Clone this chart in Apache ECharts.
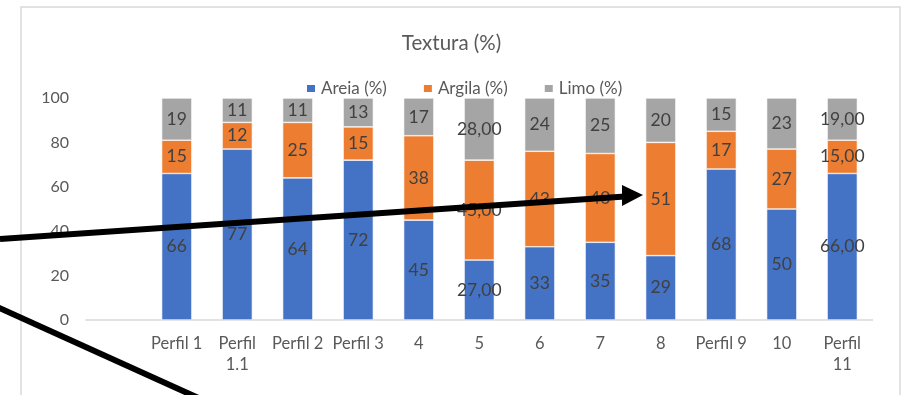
<!DOCTYPE html>
<html>
<head>
<meta charset="utf-8">
<script src="https://cdn.jsdelivr.net/npm/echarts@6/dist/echarts.min.js"></script>
<style>
  html, body { margin: 0; padding: 0; background: #ffffff; }
  #chart { width: 903px; height: 395px; }
</style>
</head>
<body>
<div id="chart"></div>
<script>
// Soil texture per profile (leading empty slot keeps the first column blank)
const categories = ['', 'Perfil 1', 'Perfil\n1.1', 'Perfil 2', 'Perfil 3', '4', '5', '6', '7', '8', 'Perfil 9', '10', 'Perfil\n11'];
const areia  = [null, 66, 77, 64, 72, 45, 27, 33, 35, 29, 68, 50, 66];
const argila = [null, 15, 12, 25, 15, 38, 45, 43, 40, 51, 17, 27, 15];
const limo   = [null, 19, 11, 11, 13, 17, 28, 24, 25, 20, 15, 23, 19];
// Number of decimals shown in each column's value labels
const labelDecimals = [0, 0, 0, 0, 0, 0, 2, 0, 0, 0, 0, 0, 2];
const yTicks = [0, 20, 40, 60, 80, 100];

const FONT = 'Lato, "Open Sans", sans-serif';

function fmtLabel(p) {
  const d = labelDecimals[p.dataIndex];
  return Number(p.value).toFixed(d).replace('.', ',');
}

function barSeries(name, data, color) {
  return {
    name: name,
    type: 'bar',
    stack: 'total',
    data: data,
    barWidth: '50%',
    itemStyle: { color: color, borderColor: '#ffffff', borderWidth: 0.6 },
    label: {
      show: true,
      position: 'inside',
      formatter: fmtLabel,
      color: '#404040',
      fontFamily: FONT,
      fontSize: 17.5
    },
    emphasis: { disabled: true }
  };
}

const chart = echarts.init(document.getElementById('chart'), null, { renderer: 'canvas' });

chart.setOption({
  animation: false,
  backgroundColor: '#ffffff',
  title: {
    text: 'Textura (%)',
    left: 'center',
    top: 28,
    textStyle: { color: '#595959', fontFamily: FONT, fontSize: 20.5, fontWeight: 'normal' }
  },
  legend: {
    top: 75,
    left: 300,
    itemWidth: 10,
    itemHeight: 9,
    itemGap: 35,
    icon: 'rect',
    textStyle: { color: '#595959', fontFamily: FONT, fontSize: 17 },
    data: ['Areia (%)', 'Argila (%)', 'Limo (%)']
  },
  grid: { left: 86, right: 30.5, top: 98, bottom: 75, containLabel: false },
  xAxis: {
    type: 'category',
    data: categories,
    axisLine: { lineStyle: { color: '#d9d9d9', width: 1.5 } },
    axisTick: { show: false },
    axisLabel: {
      interval: 0,
      color: '#595959',
      fontFamily: FONT,
      fontSize: 16.5,
      lineHeight: 21,
      margin: 13
    }
  },
  yAxis: {
    type: 'value',
    min: 0,
    max: 100,
    interval: 20,
    axisLine: { show: false },
    axisTick: { show: false },
    splitLine: { show: false },
    axisLabel: {
      color: '#595959',
      fontFamily: FONT,
      fontSize: 16,
      margin: 17,
      formatter: function (v) { return yTicks.indexOf(v) >= 0 ? String(v) : ''; }
    }
  },
  series: [
    barSeries('Areia (%)', areia, '#4472c4'),
    barSeries('Argila (%)', argila, '#ed7d31'),
    barSeries('Limo (%)', limo, '#a5a5a5')
  ],
  graphic: [
    // chart-area frame
    {
      type: 'rect',
      shape: { x: 21, y: 7, width: 879, height: 420 },
      style: { fill: null, stroke: '#d9d9d9', lineWidth: 1.5 },
      z: -1
    },
    // annotation arrow pointing at column 8
    {
      type: 'line',
      shape: { x1: 0, y1: 239, x2: 625, y2: 196.5 },
      style: { stroke: '#000000', lineWidth: 6 },
      z: 100
    },
    {
      type: 'polygon',
      shape: { points: [[622, 185], [643, 195], [622, 206]] },
      style: { fill: '#000000' },
      z: 100
    },
    // second annotation line running off the bottom
    {
      type: 'line',
      shape: { x1: -5, y1: 306, x2: 225, y2: 410 },
      style: { stroke: '#000000', lineWidth: 6 },
      z: 100
    }
  ]
});
</script>
</body>
</html>
